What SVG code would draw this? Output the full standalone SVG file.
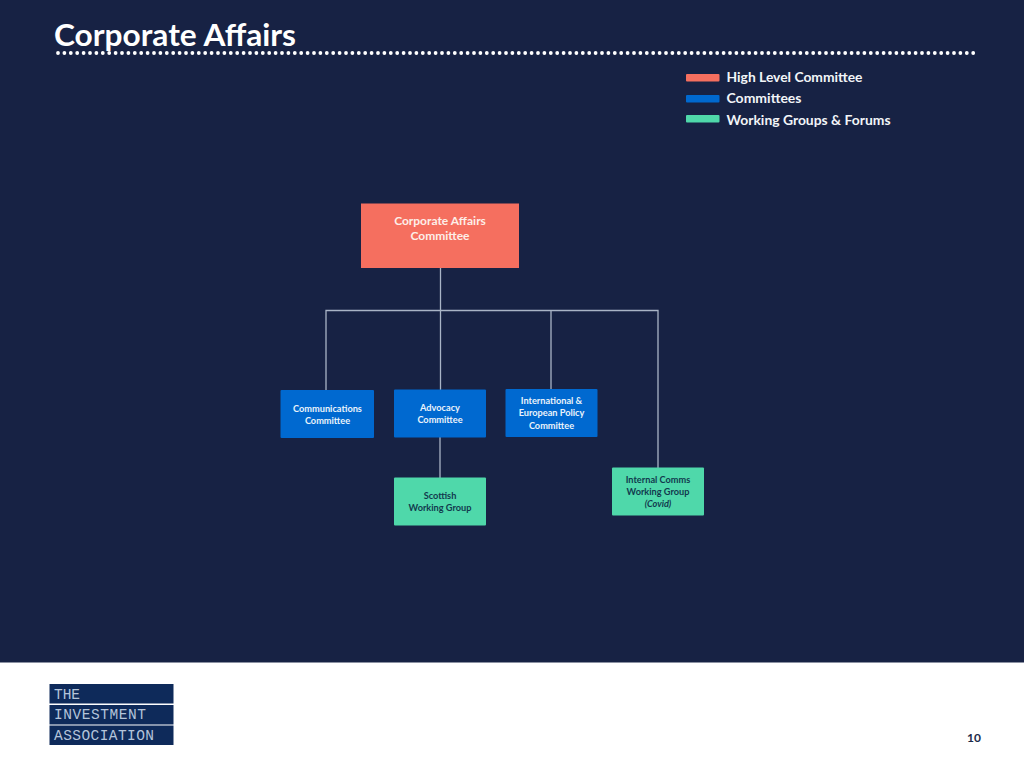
<svg xmlns="http://www.w3.org/2000/svg" width="1024" height="768" viewBox="0 0 1024 768">
<style>
text{font-family:Lato,"Open Sans","Liberation Sans",sans-serif;font-weight:700;text-anchor:middle}
.lg{font-size:14px;fill:#f2f5f8;text-anchor:start}
.s{font-size:9.200px}
.w{fill:#eaf3fb}
.d{fill:#123a4e}
.blue{fill:#0069d0}
.green{fill:#4fd8aa}
.c{fill:none;stroke:#a9b4c6;stroke-width:1.3}
.logo{fill:#0e2a5a}
.lt{font-family:"Liberation Mono","DejaVu Sans Mono",monospace;font-weight:400;font-size:14.500px;fill:#b4c4da;text-anchor:start}
</style>
<rect width="1024" height="768" fill="#172244"/>
<rect y="662.500" width="1024" height="105.500" fill="#ffffff"/>
<g id="title">
<text x="54" y="46" style="font-size:31px;text-anchor:start" fill="#ffffff" textLength="242" lengthAdjust="spacingAndGlyphs">Corporate Affairs</text>
<line x1="58" y1="53" x2="974" y2="53" stroke="#ffffff" stroke-width="3.800" stroke-linecap="round" stroke-dasharray="0 6.400"/>
</g>
<g id="legend">
<rect x="686" y="74" width="33.500" height="7.500" rx="1" fill="#f56f5f"/>
<rect x="686" y="95" width="33.500" height="7.500" rx="1" class="blue"/>
<rect x="686" y="115" width="33.500" height="7.500" rx="1" class="green"/>
<text x="726.500" y="81.500" class="lg" textLength="136" lengthAdjust="spacingAndGlyphs">High Level Committee</text>
<text x="726.500" y="103" class="lg" textLength="75" lengthAdjust="spacingAndGlyphs">Committees</text>
<text x="726.500" y="124.500" class="lg" textLength="164" lengthAdjust="spacingAndGlyphs">Working Groups &amp; Forums</text>
</g>
<g id="connectors">
<path class="c" d="M440.500 268V390M326 390V310.500H658V468M551 310.500V390"/>
<path class="c" d="M440 437V478"/>
</g>
<g id="corporate-affairs-committee">
<rect x="361" y="203.500" width="158" height="64.500" fill="#f56f5f"/>
<text x="440" y="225" style="font-size:12px" fill="#fdeee8">Corporate Affairs</text>
<text x="440" y="240" style="font-size:12px" fill="#fdeee8">Committee</text>
</g>
<g id="communications-committee">
<rect x="280.500" y="390" width="93.500" height="48" rx="1" class="blue"/>
<text x="327.500" y="411.500" class="s w">Communications</text>
<text x="327.500" y="423.500" class="s w">Committee</text>
</g>
<g id="advocacy-committee">
<rect x="394" y="389.500" width="92" height="48" rx="1" class="blue"/>
<text x="440" y="411" class="s w">Advocacy</text>
<text x="440" y="423" class="s w">Committee</text>
</g>
<g id="international-committee">
<rect x="505.500" y="389" width="92" height="48" rx="1" class="blue"/>
<text x="551.500" y="404" class="s w">International &amp;</text>
<text x="551.500" y="416" class="s w">European Policy</text>
<text x="551.500" y="429" class="s w">Committee</text>
</g>
<g id="scottish-working-group">
<rect x="394" y="477.500" width="92" height="48" rx="1" class="green"/>
<text x="440" y="499" class="s d">Scottish</text>
<text x="440" y="511" class="s d">Working Group</text>
</g>
<g id="internal-comms-working-group">
<rect x="612" y="467.500" width="92" height="48" rx="1" class="green"/>
<text x="658" y="483" class="s d">Internal Comms</text>
<text x="658" y="495" class="s d">Working Group</text>
<text x="658" y="507" class="s d" font-style="italic">(Covid)</text>
</g>
<g id="logo">
<rect x="49.500" y="684" width="124" height="19.500" class="logo"/>
<rect x="49.500" y="705" width="124" height="19.500" class="logo"/>
<rect x="49.500" y="725.500" width="124" height="19.500" class="logo"/>
<text x="54" y="698.500" class="lt" textLength="26">THE</text>
<text x="54" y="719" class="lt" textLength="92">INVESTMENT</text>
<text x="54" y="739.500" class="lt" textLength="100">ASSOCIATION</text>
</g>
<text id="page" x="974" y="741.500" style="font-size:12px" fill="#1b2a4a">10</text>
</svg>
